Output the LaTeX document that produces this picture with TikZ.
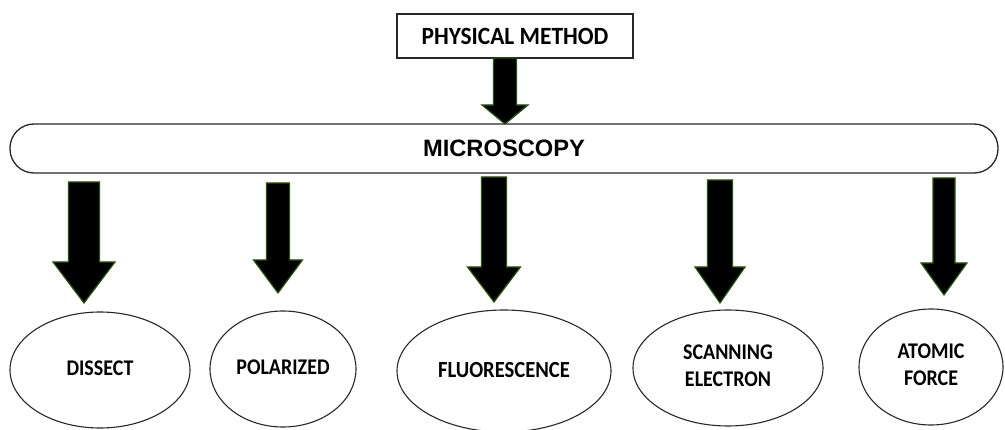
\documentclass[tikz,border=0pt]{standalone}
\usepackage{fontspec}
\setmainfont{Carlito}
\newfontfamily\arialfont{Liberation Sans}
\usetikzlibrary{shapes.geometric}
\definecolor{arrowedge}{RGB}{45,80,15}
\definecolor{linegray}{RGB}{40,40,40}
\newcommand\tall[1]{\scalebox{1}[1.12]{#1}}
\newcommand\twolines[2]{\raisebox{4pt}{\setlength\tabcolsep{0pt}\begin{tabular}{c}\tall{#1}\\\tall{#2}\end{tabular}}}
\tikzset{
  rectbox/.style={draw=linegray, line width=1.3pt, minimum width=236pt, minimum height=44pt, inner sep=0pt, font=\bfseries\fontsize{23.4}{25}\selectfont},
  barbox/.style={draw=linegray, line width=1.3pt, rounded corners=24pt, minimum width=988pt, minimum height=49pt, inner sep=0pt, font=\arialfont\bfseries\fontsize{23.7}{26}\selectfont},
  oval/.style={ellipse, draw=linegray, line width=1.1pt, inner sep=0pt, align=center, font=\bfseries\fontsize{20}{27}\selectfont},
  blockarrow/.style={fill=black, draw=arrowedge, line width=1.2pt, line join=miter}
}
% #1 centre x, #2 shaft half width, #3 top y, #4 head start y, #5 head half width, #6 tip y
\newcommand\fatarrow[6]{%
  \draw[blockarrow] (#1-#2,#3) -- (#1+#2,#3) -- (#1+#2,#4) -- (#1+#5,#4) -- (#1,#6) -- (#1-#5,#4) -- (#1-#2,#4) -- cycle;}
\begin{document}
\begin{tikzpicture}[x=1pt,y=-1pt]
\useasboundingbox[fill=white] (0,0) rectangle (1005,430);
\node[rectbox] (phys) at (515,36) {\raisebox{-3pt}{\scalebox{1}[1.06]{PHYSICAL METHOD}}};
\node[barbox] (micro) at (504,148.5) {\raisebox{-1.5pt}{MICROSCOPY}};
\node[oval, minimum width=180pt, minimum height=116pt] (dissect) at (100,370) {\raisebox{4pt}{\tall{DISSECT}}};
\node[oval, minimum width=146pt, minimum height=116pt] (polar) at (283,369) {\raisebox{4pt}{\tall{POLARIZED}}};
\node[oval, minimum width=214pt, minimum height=122pt] (fluor) at (504,371) {\raisebox{2.5pt}{\fontsize{20.6}{27}\selectfont\tall{FLUORESCENCE}}};
\node[oval, minimum width=190pt, minimum height=116pt] (scan) at (728,368) {\twolines{SCANNING}{ELECTRON}};
\node[oval, minimum width=144pt, minimum height=116pt] (atomic) at (931,367) {\twolines{ATOMIC}{FORCE}};
\fatarrow{505}{11.5}{58}{105}{23}{124}
\fatarrow{84}{15.5}{182}{262}{31}{303}
\fatarrow{278}{11.5}{183}{260}{24.5}{293}
\fatarrow{494}{12.5}{177}{267}{26.5}{302}
\fatarrow{720}{12.5}{180}{267}{25}{303}
\fatarrow{944}{11}{178}{263}{23}{295}
\end{tikzpicture}
\end{document}
